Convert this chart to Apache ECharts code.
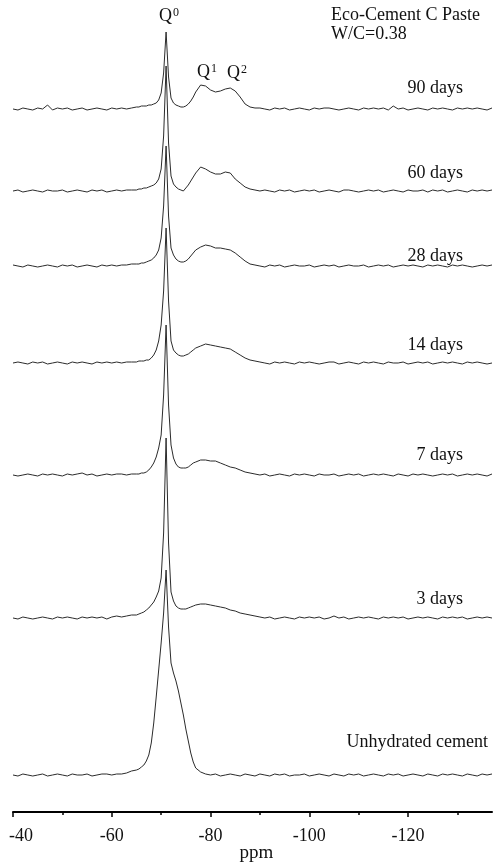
<!DOCTYPE html>
<html>
<head>
<meta charset="utf-8">
<script src="https://cdn.jsdelivr.net/npm/echarts@6/dist/echarts.min.js"></script>
<style>
  html, body { margin: 0; padding: 0; background: #fff; }
  #chart { width: 493px; height: 862px; }
</style>
</head>
<body>
<div id="chart"></div>
<script>
// chemical shift grid (ppm), finer around the Q0 peak
var ppm = [
  -40, -41, -42, -43, -44, -45, -46, -47, -48, -49, -50, -51, -52, -53, -54, -55, -56, -57, -58, -59, -60, -61, -62, -63, -64,
  -65, -65.5, -66, -66.5, -67, -67.5, -68, -68.5, -69, -69.5, -70, -70.5, -71, -71.5, -72, -72.5, -73, -73.5, -74, -74.5, -75, -75.5, -76, -76.5, -77,
  -78, -79, -80, -81, -82, -83, -84, -85, -86, -87, -88, -89,
  -90, -91, -92, -93, -94, -95, -96, -97, -98, -99, -100, -101, -102, -103, -104, -105, -106, -107, -108, -109,
  -110, -111, -112, -113, -114, -115, -116, -117, -118, -119, -120, -121, -122, -123, -124, -125, -126, -127, -128, -129,
  -130, -131, -132, -133, -134, -135, -136, -137
];

// intensities (relative to its own baseline)
var days90 = [
  0, -1, 1, 0, -1, 1, 0, 4, -1, 1, 0, 1, -1, 0, 1, -1, 0, 1, 0, -1, 1, 0, 1, 0, 1,
  2, 2, 3, 3, 3, 4, 4, 5, 6, 9, 16, 36, 77, 32, 11, 6, 4, 3, 2, 2, 3, 5, 8, 12, 17,
  24, 23, 19, 17, 18, 20, 21, 18, 12, 5, 2, 1,
  1, 0, -1, 1, 0, 1, -1, 0, 1, 0, -1, 1, 0, 1, 1, 0, -1, 0, 1, 0, -1, 1, 0, 1, 0, 1, -1, 3, 0, 1,
  -1, 0, 1, 0, -1, 1, 0, 1, 0, -1, 1, 0, 1, 0, 1, 0, -1, 1
];
var days60 = [
  0, 1, -1, 0, 1, 0, -1, 1, 0, 0, 1, -1, 0, 1, 0, -1, 1, 0, 1, -1, 0, 1, 0, 1, 1,
  1, 2, 2, 3, 3, 4, 5, 6, 8, 12, 22, 55, 125, 48, 15, 7, 4, 2, 1, 0, 3, 6, 10, 14, 18,
  24, 22, 19, 17, 17, 19, 18, 12, 8, 4, 2, 1,
  0, 1, 0, -1, 1, 0, 1, -1, 0, 1, 0, 1, -1, 0, 1, 0, -1, 1, 1, 0, -1, 0, 1, 0, 1, -1, 0, 1, 0, -1,
  1, 0, 0, 1, -1, 1, 0, 1, -1, 0, 1, 0, -1, 1, 0, 1, 0, 1
];
var days28 = [
  1, 0, -1, 1, 0, -1, 0, 1, 0, -1, 1, 0, 1, -1, 0, 1, 0, -1, 1, 0, 1, 0, 1, 1, 2,
  2, 2, 3, 3, 4, 5, 6, 8, 11, 16, 28, 60, 120, 50, 18, 11, 7, 5, 4, 4, 5, 7, 10, 13, 16,
  19, 21, 20, 18, 18, 17, 16, 13, 9, 5, 2, 1,
  0, -1, 1, 0, 1, -1, 0, 1, 0, 0, 1, -1, 0, 1, 0, 1, -1, 0, 1, 0, 0, 1, -1, 0, 1, 0, 1, -1, 0, 1,
  0, 1, 0, -1, 1, 0, 1, 0, -1, 1, 0, 1, 0, -1, 0, 1, 0, 1
];
var days14 = [
  0, 1, 0, -1, 1, 0, 1, -1, 0, 1, 0, -1, 1, 0, 1, 0, -1, 1, 0, 1, 0, 1, 0, 1, 1,
  1, 2, 2, 2, 3, 3, 5, 8, 13, 22, 38, 72, 135, 62, 22, 13, 10, 8, 7, 7, 8, 9, 11, 13, 15,
  17, 19, 18, 17, 16, 15, 14, 11, 8, 5, 3, 2,
  1, 0, -1, 1, 0, 1, 0, -1, 1, 0, 1, 0, -1, 0, 1, 1, -1, 0, 1, 0, -1, 1, 0, 1, 0, -1, 1, 0, 0, 1,
  -1, 0, 1, 0, 1, -1, 0, 1, 0, 1, 0, -1, 1, 0, 1, 0, -1, 0
];
var days7 = [
  0, -1, 0, 1, 0, -1, 1, 0, 1, 0, -1, 1, 0, 1, 2, 0, 1, -1, 0, 1, 0, 1, 1, 0, 1,
  1, 1, 2, 2, 3, 5, 8, 12, 18, 27, 40, 80, 150, 70, 30, 17, 11, 8, 7, 7, 7, 8, 10, 12, 13,
  15, 15, 14, 14, 12, 10, 8, 7, 5, 3, 2, 1,
  0, 1, -1, 0, 1, 0, -1, 1, 0, 1, 0, -1, 1, 0, 0, 1, -1, 0, 1, 0, 1, -1, 0, 1, 0, 1, 0, -1, 1, 0,
  -1, 1, 0, 1, 0, -1, 0, 1, 0, 1, -1, 0, 1, 0, 1, 0, -1, 1
];
var days3 = [
  0, -1, 1, 0, -1, 0, 1, 0, -1, 1, 0, 1, 0, -1, 1, 0, 1, 0, 1, -1, 1, 2, 1, 2, 3,
  3, 4, 5, 6, 8, 10, 13, 16, 21, 27, 40, 85, 180, 75, 26, 17, 12, 10, 9, 9, 9, 10, 11, 12, 13,
  14, 14, 13, 12, 11, 10, 8, 7, 5, 4, 3, 2,
  1, 0, 1, -1, 0, 1, 0, -1, 1, 0, 1, 0, 1, -1, 0, 2, 0, 1, -1, 0, 1, 0, 1, 0, -1, 1, 0, 1, 0, 1,
  -1, 0, 1, 0, 1, 0, -1, 1, 0, 1, 0, 1, -1, 0, 1, 0, 1, 0
];
var unhydrated = [
  0, -1, 1, 0, -1, 0, 1, -1, 0, 1, 0, -1, 1, 0, 0, 1, -1, 0, 1, 1, 0, 1, 1, 2, 4,
  5, 6, 8, 10, 14, 20, 32, 52, 78, 105, 132, 162, 205, 148, 112, 102, 94, 84, 72, 60, 46, 34, 22, 13, 7,
  3, 1, 0, 1, -1, 0, 1, 0, -1, 1, 0, -1,
  1, 0, -1, 1, 0, 1, -1, 0, 0, 1, -1, 0, 1, 0, -1, 1, 0, -1, 1, 0, 1, -1, 0, 1, 0, -1, 1, 0, 1, -1,
  0, 1, 0, -1, 1, 0, -1, 1, 0, 1, 0, -1, 1, 0, -1, 1, 0, 1
];

var traces = [days90, days60, days28, days14, days7, days3, unhydrated];
var traceNames = ['90 days', '60 days', '28 days', '14 days', '7 days', '3 days', 'Unhydrated cement'];
var majorTicks = [-40, -60, -80, -100, -120];
var minorTicks = [-50, -70, -90, -110, -130];

// vertical stacking: baseline of each trace above the axis line (chart px)
var baseOffset = [703, 621, 546, 449, 337, 194, 37];
var labelY = [90, 175, 258, 347, 457, 601, 744];

var chart = echarts.init(document.getElementById('chart'));
var font = 'Liberation Serif, Times New Roman, serif';

var seriesList = traces.map(function (vals, k) {
  return {
    name: traceNames[k],
    type: 'line',
    showSymbol: false,
    silent: true,
    lineStyle: { width: 1, color: '#2b2b2b' },
    data: vals.map(function (v, i) { return [ppm[i], baseOffset[k] + v]; })
  };
});

var texts = traceNames.map(function (name, k) {
  return {
    type: 'text',
    right: k === 6 ? 5 : 30,
    top: labelY[k] - 11,
    style: { text: name, font: '18px ' + font, fill: '#111' }
  };
});

function qLabel(sup, x, y) {
  return {
    type: 'text',
    left: x,
    top: y,
    style: {
      text: 'Q{s|' + sup + '}',
      font: '18px ' + font,
      fill: '#111',
      rich: { s: { fontSize: 12, fontFamily: font, verticalAlign: 'top', padding: [0, 0, 7, 1] } }
    }
  };
}

chart.setOption({
  animation: false,
  backgroundColor: '#fff',
  grid: { left: 13, right: 1, top: 0, bottom: 50, outerBoundsMode: 'none' },
  xAxis: [{
    type: 'value',
    inverse: true,
    min: -137,
    max: -40,
    position: 'bottom',
    name: 'ppm',
    nameLocation: 'middle',
    nameGap: 32,
    nameMoveOverlap: false,
    nameTextStyle: { fontFamily: font, fontSize: 19, color: '#111', padding: [0, 0, 0, 8] },
    axisLine: { lineStyle: { color: '#000', width: 2 } },
    axisTick: { customValues: majorTicks, length: 5, lineStyle: { color: '#000', width: 1.5 } },
    axisLabel: {
      customValues: majorTicks,
      margin: 15,
      fontFamily: font,
      fontSize: 18,
      color: '#111',
      formatter: function (v) { return v === -40 ? '{l|-40}' : String(v); },
      rich: { l: { fontFamily: font, fontSize: 18, color: '#111', padding: [0, 0, 0, 16] } }
    },
    splitLine: { show: false }
  }, {
    type: 'value',
    inverse: true,
    min: -137,
    max: -40,
    position: 'bottom',
    axisLine: { show: false },
    axisTick: { customValues: minorTicks, length: 3, lineStyle: { color: '#000', width: 1.5 } },
    axisLabel: { show: false },
    splitLine: { show: false }
  }],
  yAxis: { type: 'value', min: 0, max: 812, show: false },
  series: seriesList,
  graphic: texts.concat([
    { type: 'text', left: 331, top: 6, style: { text: 'Eco-Cement C Paste', font: '18px ' + font, fill: '#111' } },
    { type: 'text', left: 331, top: 25, style: { text: 'W/C=0.38', font: '18px ' + font, fill: '#111' } },
    qLabel('0', 159, 7),
    qLabel('1', 197, 63),
    qLabel('2', 227, 64)
  ])
});
</script>
</body>
</html>
